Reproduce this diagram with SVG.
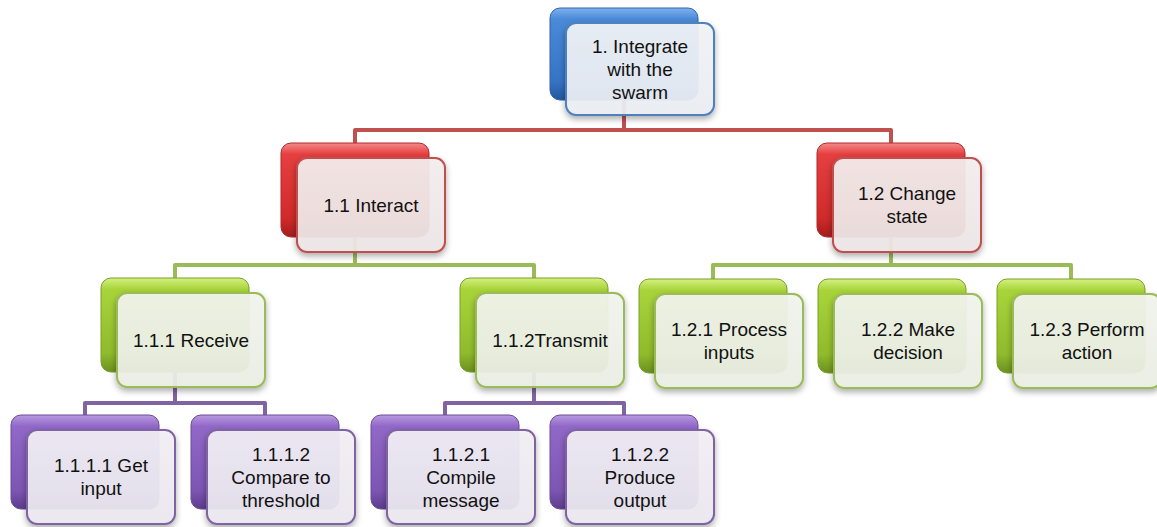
<svg xmlns="http://www.w3.org/2000/svg" width="1157" height="527" viewBox="0 0 1157 527">
<defs>
<linearGradient id="gBlue" x1="0" y1="0" x2="0" y2="1"><stop offset="0" stop-color="#7fb2ec"/><stop offset="0.12" stop-color="#4a8ad8"/><stop offset="0.8" stop-color="#3673c4"/><stop offset="1" stop-color="#24579f"/></linearGradient>
<linearGradient id="gRed" x1="0" y1="0" x2="0" y2="1"><stop offset="0" stop-color="#f58a8a"/><stop offset="0.12" stop-color="#e53f3f"/><stop offset="0.8" stop-color="#d02a2a"/><stop offset="1" stop-color="#a51c1c"/></linearGradient>
<linearGradient id="gGreen" x1="0" y1="0" x2="0" y2="1"><stop offset="0" stop-color="#d4f080"/><stop offset="0.12" stop-color="#a8d43a"/><stop offset="0.8" stop-color="#8fbb2c"/><stop offset="1" stop-color="#6b9020"/></linearGradient>
<linearGradient id="gPurple" x1="0" y1="0" x2="0" y2="1"><stop offset="0" stop-color="#b89ae0"/><stop offset="0.12" stop-color="#9168c8"/><stop offset="0.8" stop-color="#7d55b3"/><stop offset="1" stop-color="#5e3d8c"/></linearGradient>
<linearGradient id="fBlue" x1="0" y1="0" x2="0" y2="1"><stop offset="0" stop-color="#f2f4f8"/><stop offset="1" stop-color="#eceff5"/></linearGradient>
<linearGradient id="fRed" x1="0" y1="0" x2="0" y2="1"><stop offset="0" stop-color="#f5efef"/><stop offset="1" stop-color="#efe7e7"/></linearGradient>
<linearGradient id="fGreen" x1="0" y1="0" x2="0" y2="1"><stop offset="0" stop-color="#f3f5ef"/><stop offset="1" stop-color="#edf0e6"/></linearGradient>
<linearGradient id="fPurple" x1="0" y1="0" x2="0" y2="1"><stop offset="0" stop-color="#f3f1f6"/><stop offset="1" stop-color="#ece9f1"/></linearGradient>
<filter id="sh" x="-20%" y="-20%" width="140%" height="150%"><feDropShadow dx="0" dy="3" stdDeviation="3" flood-color="#000" flood-opacity="0.35"/></filter>
</defs>
<style>
.back{stroke-width:1}
.front{stroke-width:2;fill-opacity:0.92;filter:url(#sh)}
.blue .back{fill:url(#gBlue);stroke:#2f63a8}
.blue .front{fill:url(#fBlue);stroke:#4f81bd}
.red .back{fill:url(#gRed);stroke:#b02a2a}
.red .front{fill:url(#fRed);stroke:#c0504d}
.green .back{fill:url(#gGreen);stroke:#7a9f2a}
.green .front{fill:url(#fGreen);stroke:#9bbb59}
.purple .back{fill:url(#gPurple);stroke:#6a4a96}
.purple .front{fill:url(#fPurple);stroke:#8064a2}
text{font-family:"Liberation Sans",Arial,sans-serif;font-size:19px;fill:#111;text-anchor:middle}
.conn path{fill:none;stroke-width:4;stroke-linejoin:round}
</style>
<g id="connectors" class="conn">
<path d="M624,100 V130 M355,143 V130 H891 V143" stroke="#c0504d"/>
<path d="M355,237 V265 M175,278 V265 H534 V278" stroke="#9bbb59"/>
<path d="M891,237 V265 M713,279 V265 H1071 V279" stroke="#9bbb59"/>
<path d="M175,372 V403 M85,415 V403 H265 V415" stroke="#8064a2"/>
<path d="M534,372 V403 M445,415 V403 H624 V415" stroke="#8064a2"/>
</g>
<g id="n1" class="blue"><rect class="back" x="550" y="8" width="148" height="92" rx="10"/><rect class="front" x="566" y="23" width="148" height="92" rx="10"/><text x="640" y="53">1. Integrate</text><text x="640" y="76">with the</text><text x="640" y="99">swarm</text></g>
<g id="n1_1" class="red"><rect class="back" x="281" y="143" width="148" height="94" rx="10"/><rect class="front" x="297" y="158" width="148" height="94" rx="10"/><text x="371" y="212">1.1 Interact</text></g>
<g id="n1_2" class="red"><rect class="back" x="817" y="143" width="148" height="94" rx="10"/><rect class="front" x="833" y="158" width="148" height="94" rx="10"/><text x="907" y="200">1.2 Change</text><text x="907" y="223">state</text></g>
<g id="n1_1_1" class="green"><rect class="back" x="101" y="278" width="148" height="94" rx="10"/><rect class="front" x="117" y="293" width="148" height="94" rx="10"/><text x="191" y="347">1.1.1 Receive</text></g>
<g id="n1_1_2" class="green"><rect class="back" x="460" y="278" width="148" height="94" rx="10"/><rect class="front" x="476" y="293" width="148" height="94" rx="10"/><text x="550" y="347">1.1.2Transmit</text></g>
<g id="n1_2_1" class="green"><rect class="back" x="639" y="279" width="148" height="94" rx="10"/><rect class="front" x="655" y="294" width="148" height="94" rx="10"/><text x="729" y="336">1.2.1 Process</text><text x="729" y="359">inputs</text></g>
<g id="n1_2_2" class="green"><rect class="back" x="818" y="279" width="148" height="94" rx="10"/><rect class="front" x="834" y="294" width="148" height="94" rx="10"/><text x="908" y="336">1.2.2 Make</text><text x="908" y="359">decision</text></g>
<g id="n1_2_3" class="green"><rect class="back" x="997" y="279" width="148" height="94" rx="10"/><rect class="front" x="1013" y="294" width="148" height="94" rx="10"/><text x="1087" y="336">1.2.3 Perform</text><text x="1087" y="359">action</text></g>
<g id="n1_1_1_1" class="purple"><rect class="back" x="11" y="415" width="148" height="94" rx="10"/><rect class="front" x="27" y="430" width="148" height="94" rx="10"/><text x="101" y="472">1.1.1.1 Get</text><text x="101" y="495">input</text></g>
<g id="n1_1_1_2" class="purple"><rect class="back" x="191" y="415" width="148" height="94" rx="10"/><rect class="front" x="207" y="430" width="148" height="94" rx="10"/><text x="281" y="461">1.1.1.2</text><text x="281" y="484">Compare to</text><text x="281" y="507">threshold</text></g>
<g id="n1_1_2_1" class="purple"><rect class="back" x="371" y="415" width="148" height="94" rx="10"/><rect class="front" x="387" y="430" width="148" height="94" rx="10"/><text x="461" y="461">1.1.2.1</text><text x="461" y="484">Compile</text><text x="461" y="507">message</text></g>
<g id="n1_1_2_2" class="purple"><rect class="back" x="550" y="415" width="148" height="94" rx="10"/><rect class="front" x="566" y="430" width="148" height="94" rx="10"/><text x="640" y="461">1.1.2.2</text><text x="640" y="484">Produce</text><text x="640" y="507">output</text></g>
</svg>
